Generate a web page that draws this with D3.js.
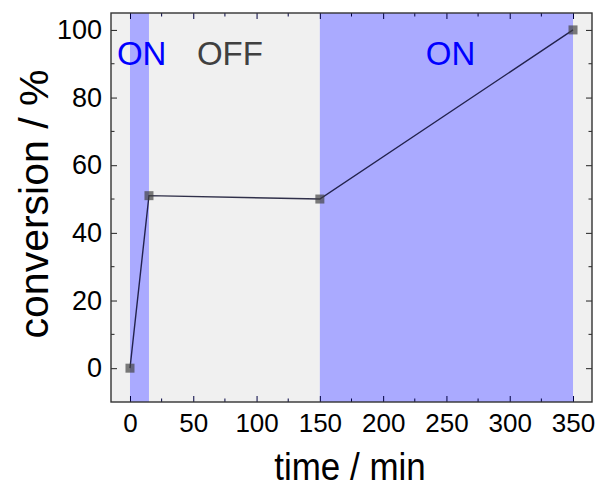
<!DOCTYPE html>
<html>
<head>
<meta charset="utf-8">
<script src="https://cdn.jsdelivr.net/npm/d3@7"></script>
<style>
  html, body { margin: 0; padding: 0; background: #fff; }
  svg text { font-family: "Liberation Sans", Arial, sans-serif; }
</style>
</head>
<body>
<svg id="chart" width="600" height="488"></svg>
<script>
// Data
const times = [0, 15, 150, 350];
const conversion = [0, 51, 50, 100];
const onPeriods = [[0, 15], [150, 350]];
const phaseLabels = ["ON", "OFF", "ON"];
const xTicks = [0, 50, 100, 150, 200, 250, 300, 350];
const yTicks = [0, 20, 40, 60, 80, 100];
const xMinorTicks = [25, 75, 125, 175, 225, 275, 325];
const yMinorTicks = [10, 30, 50, 70, 90];

const svg = d3.select("#chart");
const m = { left: 111, top: 13, right: 592, bottom: 402 };

const x = d3.scaleLinear().domain([-15, 365]).range([m.left, m.right]);
const y = d3.scaleLinear().domain([-10, 105]).range([m.bottom, m.top]);

// background
svg.append("rect")
  .attr("x", m.left).attr("y", m.top)
  .attr("width", m.right - m.left).attr("height", m.bottom - m.top)
  .attr("fill", "#f0f0f0");

// ON periods
svg.selectAll("rect.on").data(onPeriods).enter().append("rect")
  .attr("class", "on")
  .attr("x", d => x(d[0])).attr("y", m.top)
  .attr("width", d => x(d[1]) - x(d[0]))
  .attr("height", m.bottom - m.top)
  .attr("fill", "#aaaaff");

// Phase labels
const labelColors = ["#0000ff", "#404040", "#0000ff"];
const labelAnchors = [-10.3, 52.9, 233.7];
svg.selectAll("text.phase").data(phaseLabels).enter().append("text")
  .attr("class", "phase")
  .attr("x", (d, i) => x(labelAnchors[i]))
  .attr("y", 65)
  .attr("font-size", 33)
  .attr("fill", (d, i) => labelColors[i])
  .text(d => d);

// Line
const pts = times.map((t, i) => [t, conversion[i]]);
svg.append("path")
  .datum(pts)
  .attr("d", d3.line().x(d => x(d[0])).y(d => y(d[1])))
  .attr("fill", "none")
  .attr("stroke", "#000020")
  .attr("stroke-opacity", 0.8)
  .attr("stroke-width", 1.4);

// markers
svg.selectAll("rect.pt").data(pts).enter().append("rect")
  .attr("class", "pt")
  .attr("x", d => x(d[0]) - 4.5).attr("y", d => y(d[1]) - 4.5)
  .attr("width", 9).attr("height", 9)
  .attr("fill", "#404040")
  .attr("fill-opacity", 0.68);

// Axes
const tickLen = 6, minorLen = 3.5;
const axisColor = "#222";
// bottom
const xAxis = d3.axisBottom(x).tickValues(xTicks).tickSizeInner(-tickLen).tickSizeOuter(0).tickPadding(12);
const gx = svg.append("g").attr("transform", `translate(0,${m.bottom})`).call(xAxis);
gx.selectAll("text").attr("font-size", 26).attr("fill", "#000").attr("font-family", "Liberation Sans, Arial, sans-serif");
gx.select(".domain").remove();
gx.selectAll(".tick line").attr("stroke", "#000040");
// top
const gxt = svg.append("g").attr("transform", `translate(0,${m.top})`)
  .call(d3.axisTop(x).tickValues(xTicks).tickSizeInner(-tickLen).tickSizeOuter(0).tickFormat(""));
gxt.select(".domain").remove();
gxt.selectAll(".tick line").attr("stroke", "#000040");
// left
const yAxis = d3.axisLeft(y).tickValues(yTicks).tickSizeInner(-tickLen).tickSizeOuter(0).tickPadding(9);
const gy = svg.append("g").attr("transform", `translate(${m.left},0)`).call(yAxis);
gy.selectAll("text").attr("font-size", 27).attr("fill", "#000").attr("font-family", "Liberation Sans, Arial, sans-serif");
gy.select(".domain").remove();
gy.selectAll(".tick line").attr("stroke", axisColor);
// right
const gyr = svg.append("g").attr("transform", `translate(${m.right},0)`)
  .call(d3.axisRight(y).tickValues(yTicks).tickSizeInner(-tickLen).tickSizeOuter(0).tickFormat(""));
gyr.select(".domain").remove();
gyr.selectAll(".tick line").attr("stroke", axisColor);

// minor ticks
const minor = svg.append("g");
xMinorTicks.forEach(v => {
  minor.append("line").attr("x1", x(v)).attr("x2", x(v)).attr("y1", m.bottom).attr("y2", m.bottom - minorLen).attr("stroke", "#000040");
  minor.append("line").attr("x1", x(v)).attr("x2", x(v)).attr("y1", m.top).attr("y2", m.top + minorLen).attr("stroke", "#000040");
});
yMinorTicks.forEach(v => {
  minor.append("line").attr("x1", m.left).attr("x2", m.left + minorLen).attr("y1", y(v)).attr("y2", y(v)).attr("stroke", axisColor);
  minor.append("line").attr("x1", m.right).attr("x2", m.right - minorLen).attr("y1", y(v)).attr("y2", y(v)).attr("stroke", axisColor);
});

// frame
svg.append("rect")
  .attr("x", m.left).attr("y", m.top)
  .attr("width", m.right - m.left).attr("height", m.bottom - m.top)
  .attr("fill", "none").attr("stroke", "#333").attr("stroke-width", 1.4);

// Axis titles
svg.append("text")
  .attr("transform", "translate(350,480) scale(0.92,1)")
  .attr("text-anchor", "middle").attr("font-size", 38).attr("fill", "#000")
  .text("time / min");
svg.append("text")
  .attr("transform", "translate(48,204) rotate(-90)")
  .attr("text-anchor", "middle").attr("font-size", 41).attr("fill", "#000")
  .text("conversion / %");
</script>
</body>
</html>
